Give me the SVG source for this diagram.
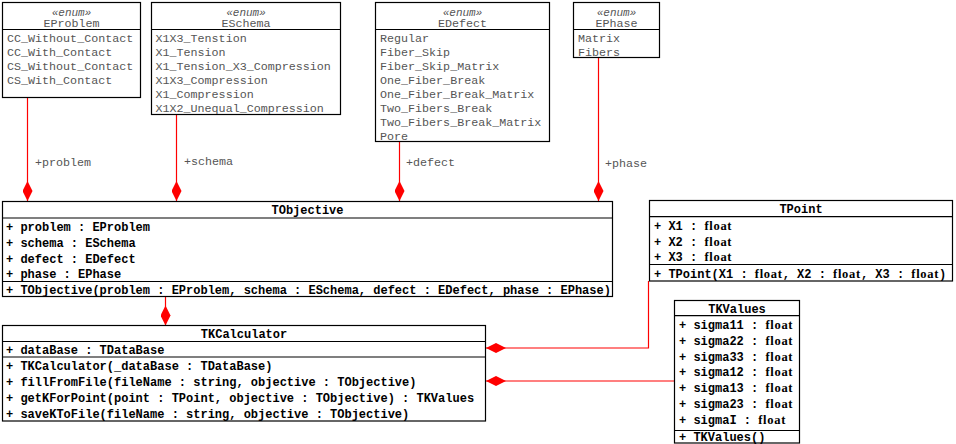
<svg xmlns="http://www.w3.org/2000/svg" width="956" height="444" viewBox="0 0 956 444">
<style>
  .box { fill: #ffffff; stroke: #000000; stroke-width: 1.2; }
  .div { stroke: #000000; stroke-width: 1.2; }
  .lit { font-family: "Liberation Mono", "DejaVu Sans Mono", monospace; font-size: 11.7px; fill: #555555; }
  .ster { font-family: "Liberation Mono", "DejaVu Sans Mono", monospace; font-size: 11px; font-style: italic; fill: #555555; text-anchor: middle; }
  .ename { font-family: "Liberation Mono", "DejaVu Sans Mono", monospace; font-size: 11.7px; fill: #555555; text-anchor: middle; }
  .cname { font-family: "Liberation Mono", "DejaVu Sans Mono", monospace; font-size: 12px; font-weight: bold; fill: #000000; text-anchor: middle; }
  .mem { font-family: "Liberation Mono", "DejaVu Sans Mono", monospace; font-size: 12px; font-weight: bold; fill: #000000; }
  .fl { font-family: "Liberation Serif", "DejaVu Serif", serif; font-size: 12.5px; font-weight: bold; letter-spacing: 0.7px; }
  .conn { fill: none; stroke: #ff0000; stroke-width: 1.2; marker-end: url(#diamond); }
  .lbl { font-family: "Liberation Mono", "DejaVu Sans Mono", monospace; font-size: 11.7px; fill: #555555; }
</style>
<defs>
  <marker id="diamond" markerUnits="userSpaceOnUse" markerWidth="20" markerHeight="10" refX="20" refY="5" orient="auto" viewBox="0 0 20 10">
    <path d="M0,5 L10,0 L20,5 L10,10 Z" fill="#ff0000"/>
  </marker>
</defs>
<rect width="956" height="444" fill="#ffffff"/>

<g id="connectors">
  <path class="conn" d="M27.5,97 V201"/>
  <path class="conn" d="M176.5,115 V201"/>
  <path class="conn" d="M399.5,142 V201"/>
  <path class="conn" d="M598.5,58 V201"/>
  <path class="conn" d="M165.5,297 V325.5"/>
  <path class="conn" d="M648.5,281 V348 H486"/>
  <path class="conn" d="M674,381 H486"/>
  <text class="lbl" x="35" y="166">+problem</text>
  <text class="lbl" x="184" y="165">+schema</text>
  <text class="lbl" x="406" y="166">+defect</text>
  <text class="lbl" x="605" y="167">+phase</text>
</g>

<g id="EProblem">
  <rect class="box" x="2.5" y="2.5" width="138" height="95"/>
  <line class="div" x1="2.5" y1="29.5" x2="140.5" y2="29.5"/>
  <text class="ster" x="71.5" y="15.5">«enum»</text>
  <text class="ename" x="71.5" y="27">EProblem</text>
  <text class="lit" x="7" y="41.5">CC_Without_Contact</text>
  <text class="lit" x="7" y="55.6">CC_With_Contact</text>
  <text class="lit" x="7" y="69.7">CS_Without_Contact</text>
  <text class="lit" x="7" y="83.8">CS_With_Contact</text>
</g>

<g id="ESchema">
  <rect class="box" x="151.5" y="2.5" width="189" height="112"/>
  <line class="div" x1="151.5" y1="29.5" x2="340.5" y2="29.5"/>
  <text class="ster" x="246" y="15.5">«enum»</text>
  <text class="ename" x="246" y="27">ESchema</text>
  <text class="lit" x="155.5" y="41.5">X1X3_Tenstion</text>
  <text class="lit" x="155.5" y="55.6">X1_Tension</text>
  <text class="lit" x="155.5" y="69.7">X1_Tension_X3_Compression</text>
  <text class="lit" x="155.5" y="83.8">X1X3_Compression</text>
  <text class="lit" x="155.5" y="97.9">X1_Compression</text>
  <text class="lit" x="155.5" y="112">X1X2_Unequal_Compression</text>
</g>

<g id="EDefect">
  <rect class="box" x="375.5" y="2.5" width="174" height="139"/>
  <line class="div" x1="375.5" y1="29.5" x2="549.5" y2="29.5"/>
  <text class="ster" x="462.5" y="15.5">«enum»</text>
  <text class="ename" x="462.5" y="27">EDefect</text>
  <text class="lit" x="380" y="41.5">Regular</text>
  <text class="lit" x="380" y="55.6">Fiber_Skip</text>
  <text class="lit" x="380" y="69.7">Fiber_Skip_Matrix</text>
  <text class="lit" x="380" y="83.8">One_Fiber_Break</text>
  <text class="lit" x="380" y="97.9">One_Fiber_Break_Matrix</text>
  <text class="lit" x="380" y="112">Two_Fibers_Break</text>
  <text class="lit" x="380" y="126.1">Two_Fibers_Break_Matrix</text>
  <text class="lit" x="380" y="140.2">Pore</text>
</g>

<g id="EPhase">
  <rect class="box" x="573.5" y="2.5" width="86" height="55"/>
  <line class="div" x1="573.5" y1="29.5" x2="659.5" y2="29.5"/>
  <text class="ster" x="616.5" y="15.5">«enum»</text>
  <text class="ename" x="616.5" y="27">EPhase</text>
  <text class="lit" x="578" y="41.5">Matrix</text>
  <text class="lit" x="578" y="55.6">Fibers</text>
</g>

<g id="TObjective">
  <rect class="box" x="2.5" y="201.5" width="610" height="95"/>
  <line class="div" x1="2.5" y1="218" x2="612.5" y2="218"/>
  <line class="div" x1="2.5" y1="281.5" x2="612.5" y2="281.5"/>
  <text class="cname" x="307.5" y="213.5">TObjective</text>
  <text class="mem" x="6" y="231">+ problem : EProblem</text>
  <text class="mem" x="6" y="247">+ schema : ESchema</text>
  <text class="mem" x="6" y="262.5">+ defect : EDefect</text>
  <text class="mem" x="6" y="278">+ phase : EPhase</text>
  <text class="mem" x="6" y="294">+ TObjective(problem : EProblem, schema : ESchema, defect : EDefect, phase : EPhase)</text>
</g>

<g id="TPoint">
  <rect class="box" x="649.5" y="200.5" width="303" height="80.5"/>
  <line class="div" x1="649.5" y1="216.7" x2="952.5" y2="216.7"/>
  <line class="div" x1="649.5" y1="264.5" x2="952.5" y2="264.5"/>
  <text class="cname" x="801" y="213">TPoint</text>
  <text class="mem" x="654" y="229.5">+ X1 : <tspan class="fl">float</tspan></text>
  <text class="mem" x="654" y="245.5">+ X2 : <tspan class="fl">float</tspan></text>
  <text class="mem" x="654" y="261">+ X3 : <tspan class="fl">float</tspan></text>
  <text class="mem" x="654" y="277.5">+ TPoint(X1 : <tspan class="fl">float</tspan>, X2 : <tspan class="fl">float</tspan>, X3 : <tspan class="fl">float</tspan>)</text>
</g>

<g id="TKCalculator">
  <rect class="box" x="2.5" y="325.5" width="483" height="95.5"/>
  <line class="div" x1="2.5" y1="341.5" x2="485.5" y2="341.5"/>
  <line class="div" x1="2.5" y1="357" x2="485.5" y2="357"/>
  <text class="cname" x="244" y="338">TKCalculator</text>
  <text class="mem" x="6" y="354">+ dataBase : TDataBase</text>
  <text class="mem" x="6" y="370">+ TKCalculator(_dataBase : TDataBase)</text>
  <text class="mem" x="6" y="386">+ fillFromFile(fileName : string, objective : TObjective)</text>
  <text class="mem" x="6" y="401.5">+ getKForPoint(point : TPoint, objective : TObjective) : TKValues</text>
  <text class="mem" x="6" y="417.5">+ saveKToFile(fileName : string, objective : TObjective)</text>
</g>

<g id="TKValues">
  <rect class="box" x="674.5" y="300.5" width="125" height="142.5"/>
  <line class="div" x1="674.5" y1="315.7" x2="799.5" y2="315.7"/>
  <line class="div" x1="674.5" y1="430.5" x2="799.5" y2="430.5"/>
  <text class="cname" x="737" y="313">TKValues</text>
  <text class="mem" x="679" y="329">+ sigma11 : <tspan class="fl">float</tspan></text>
  <text class="mem" x="679" y="345">+ sigma22 : <tspan class="fl">float</tspan></text>
  <text class="mem" x="679" y="360.5">+ sigma33 : <tspan class="fl">float</tspan></text>
  <text class="mem" x="679" y="376">+ sigma12 : <tspan class="fl">float</tspan></text>
  <text class="mem" x="679" y="392">+ sigma13 : <tspan class="fl">float</tspan></text>
  <text class="mem" x="679" y="408">+ sigma23 : <tspan class="fl">float</tspan></text>
  <text class="mem" x="679" y="423.5">+ sigmaI : <tspan class="fl">float</tspan></text>
  <text class="mem" x="679" y="440.5">+ TKValues()</text>
</g>
</svg>
